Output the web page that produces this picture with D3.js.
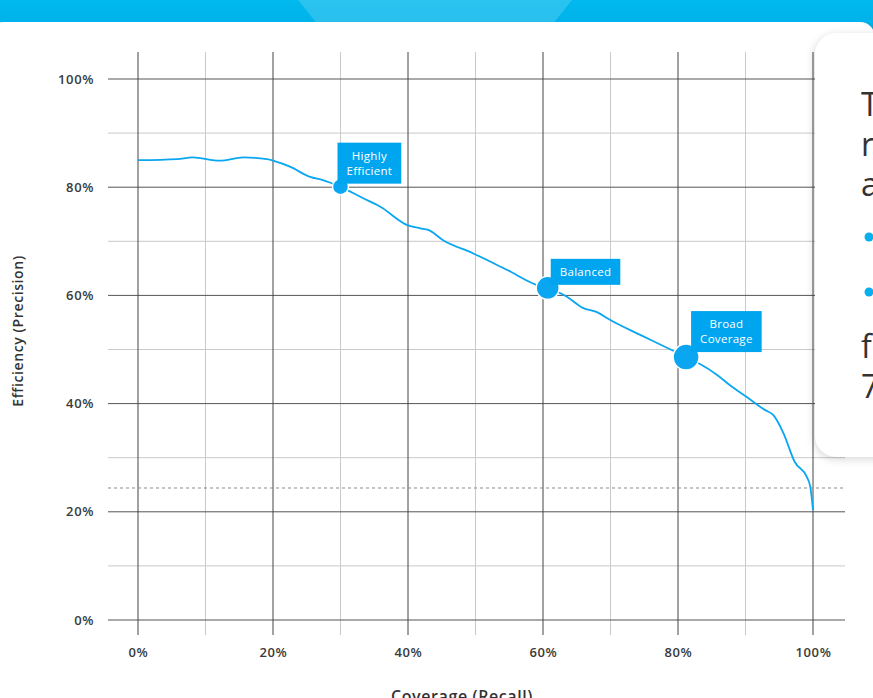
<!DOCTYPE html>
<html>
<head>
<meta charset="utf-8">
<script src="https://cdn.jsdelivr.net/npm/d3@7"></script>
<style>
  html, body { margin: 0; padding: 0; background: #ffffff; overflow: hidden; }
  svg { display: block; font-family: "Open Sans", "DejaVu Sans", sans-serif; }
</style>
</head>
<body>
<svg id="chart" width="873" height="698"></svg>
<script>
// ---------- data ----------
const recall = [0, 5.8, 8.1, 12.1, 15.6, 19.1, 20, 22.5, 25.5, 27.4, 29.9, 33.3, 35.9, 39.9, 41.8, 43.0, 45.2, 49.6, 54.7, 59.6, 60.7, 63.6, 65.9, 68.0, 69.9, 74.4, 76.9, 79.9, 81.2, 83.0, 85.8, 87.7, 90.2, 92.9, 94.1, 95.6, 97.3, 99.1, 99.6, 100];
const precision = [85.0, 85.2, 85.5, 84.9, 85.5, 85.2, 84.9, 83.8, 81.9, 81.3, 80.1, 78.0, 76.4, 73.0, 72.4, 72.1, 70.2, 67.8, 64.7, 61.7, 61.4, 59.7, 57.7, 56.9, 55.5, 52.7, 51.2, 49.4, 48.6, 47.5, 45.3, 43.4, 41.2, 38.8, 37.9, 34.6, 29.2, 26.4, 24.6, 20.3];

const markerNames = [["Highly", "Efficient"], ["Balanced"], ["Broad", "Coverage"]];
const markerRecall = [30, 60.7, 81.2];
const markerPrecision = [80.1, 61.4, 48.6];
const markerSize = [8, 11.5, 13];

const majorTicks = [0, 20, 40, 60, 80, 100];
const minorTicks = [10, 30, 50, 70, 90];
const baselinePrecision = 24.4;

const xTitle = "Coverage (Recall)";
const yTitle = "Efficiency (Precision)";

const cardLines = ["The curve shows how", "recall and precision", "are traded off:"];
const cardBullets = ["Higher thresholds favour precision", "Lower thresholds favour recall"];
const cardTail = ["for example, a threshold of", "70% keeps most of both."];

// ---------- setup ----------
const svg = d3.select("#chart");
const blue = "#0aa6f2";

const x = d3.scaleLinear().domain([0, 100]).range([138, 813]);
const y = d3.scaleLinear().domain([0, 100]).range([620, 79]);

const defs = svg.append("defs");
const grad = defs.append("linearGradient").attr("id", "band").attr("x1", 0).attr("y1", 0).attr("x2", 0).attr("y2", 1);
grad.append("stop").attr("offset", "0%").attr("stop-color", "#00b9ee");
grad.append("stop").attr("offset", "55%").attr("stop-color", "#00b3ea");
grad.append("stop").attr("offset", "100%").attr("stop-color", "#0092c4");
const shadow = defs.append("filter").attr("id", "shadow").attr("x", "-20%").attr("y", "-20%").attr("width", "140%").attr("height", "140%");
shadow.append("feDropShadow").attr("dx", -1).attr("dy", 2).attr("stdDeviation", 4).attr("flood-color", "#000").attr("flood-opacity", 0.16);

// top band
svg.append("rect").attr("x", 0).attr("y", 0).attr("width", 873).attr("height", 40).attr("fill", "url(#band)");
svg.append("polygon").attr("points", "298,0 572,0 548,30 322,30").attr("fill", "#ffffff").attr("opacity", 0.16);

// main white card
svg.append("rect").attr("x", -12).attr("y", 22).attr("width", 887).attr("height", 720).attr("rx", 15).attr("fill", "#ffffff");

// ---------- grid ----------
const g = svg.append("g");
g.selectAll(".vminor").data(minorTicks).join("line")
  .attr("x1", d => x(d)).attr("x2", d => x(d)).attr("y1", 52).attr("y2", 635)
  .attr("stroke", "#c9c9c9").attr("stroke-width", 1);
g.selectAll(".hminor").data(minorTicks).join("line")
  .attr("x1", 108).attr("x2", 845).attr("y1", d => y(d)).attr("y2", d => y(d))
  .attr("stroke", "#c9c9c9").attr("stroke-width", 1);
g.selectAll(".hmajor").data(majorTicks).join("line")
  .attr("x1", 108).attr("x2", 845).attr("y1", d => y(d)).attr("y2", d => y(d))
  .attr("stroke", "#555555").attr("stroke-width", 1);
g.selectAll(".vmajor").data(majorTicks).join("line")
  .attr("x1", d => x(d)).attr("x2", d => x(d)).attr("y1", 52).attr("y2", 635)
  .attr("stroke", "#444444").attr("stroke-width", 1);

// baseline dashed
g.append("line").attr("x1", 108).attr("x2", 845)
  .attr("y1", y(baselinePrecision)).attr("y2", y(baselinePrecision))
  .attr("stroke", "#8a8a8a").attr("stroke-width", 1).attr("stroke-dasharray", "3,3");

// ---------- axes labels ----------
const yAxis = d3.axisLeft(y).tickValues(majorTicks).tickSize(0).tickPadding(14).tickFormat(d => d + "%");
const ya = svg.append("g").attr("transform", "translate(108,0)").call(yAxis);
const xAxis = d3.axisBottom(x).tickValues(majorTicks).tickSize(0).tickPadding(13).tickFormat(d => d + "%");
const xa = svg.append("g").attr("transform", "translate(0,635)").call(xAxis);
[ya, xa].forEach(a => {
  a.select(".domain").remove();
  a.selectAll("text").attr("fill", "#3a3a3a").style("font-size", "13px").style("font-weight", 600)
    .style("letter-spacing", "0.6px").style("font-family", "'Open Sans', sans-serif");
});

svg.append("text").attr("transform", "translate(23,331) rotate(-90)")
  .attr("text-anchor", "middle").attr("fill", "#333").style("font-size", "14px").style("font-weight", 600)
  .style("letter-spacing", "0.6px")
  .text(yTitle);
svg.append("text").attr("x", 462).attr("y", 702)
  .attr("text-anchor", "middle").attr("fill", "#333").style("font-size", "16px").style("font-weight", 600)
  .style("letter-spacing", "0.6px")
  .text(xTitle);

// ---------- curve ----------
const pts = recall.map((r, i) => [r, precision[i]]);
const line = d3.line().x(d => x(d[0])).y(d => y(d[1])).curve(d3.curveMonotoneX);
svg.append("path").datum(pts).attr("d", line).attr("fill", "none").attr("stroke", blue).attr("stroke-width", 1.8);

// ---------- markers ----------
const mk = svg.append("g");
markerRecall.forEach((r, i) => {
  const cx = x(r), cy = y(markerPrecision[i]);
  mk.append("circle").attr("cx", cx).attr("cy", cy).attr("r", markerSize[i])
    .attr("fill", blue).attr("stroke", "#ffffff").attr("stroke-width", 1.5);
  const lines = markerNames[i];
  const lab = mk.append("g");
  const txt = lab.append("text").attr("fill", "#ffffff").attr("text-anchor", "middle")
    .style("font-size", "11.5px").style("font-weight", 400).style("letter-spacing", "0.3px");
  lines.forEach((s, j) => txt.append("tspan").attr("x", 0).attr("dy", j === 0 ? 0 : 15).text(s));
  const w = Math.max(...lines.map((s, j) => txt.selectAll("tspan").nodes()[j].getComputedTextLength())) + 18;
  const h = lines.length * 15 + 11;
  const left = cx + (i === 0 ? -3 : i === 1 ? 3 : 5);
  const bottom = cy - (i === 2 ? 5 : 3);
  lab.insert("rect", "text").attr("x", left).attr("y", bottom - h).attr("width", w).attr("height", h).attr("fill", "#00a5ef");
  txt.attr("transform", `translate(${left + w / 2},${bottom - h + 17})`);
});

// ---------- overlay card ----------
const card = svg.append("g");
card.append("rect").attr("x", 815).attr("y", 33).attr("width", 120).attr("height", 424).attr("rx", 22)
  .attr("fill", "#ffffff").attr("filter", "url(#shadow)");
const ct = card.append("g").attr("fill", "#333333").style("font-size", "32px").style("font-weight", 400);
cardLines.forEach((s, i) => ct.append("text").attr("x", 861).attr("y", 116 + i * 40).text(s));
cardBullets.forEach((s, i) => {
  ct.append("circle").attr("cx", 869).attr("cy", 237 + i * 55).attr("r", 4.5).attr("fill", "#0ab0ee");
  ct.append("text").attr("x", 884).attr("y", 248 + i * 55).text(s);
});
cardTail.forEach((s, i) => ct.append("text").attr("x", 861).attr("y", 358 + i * 40).text(s));
</script>
</body>
</html>
